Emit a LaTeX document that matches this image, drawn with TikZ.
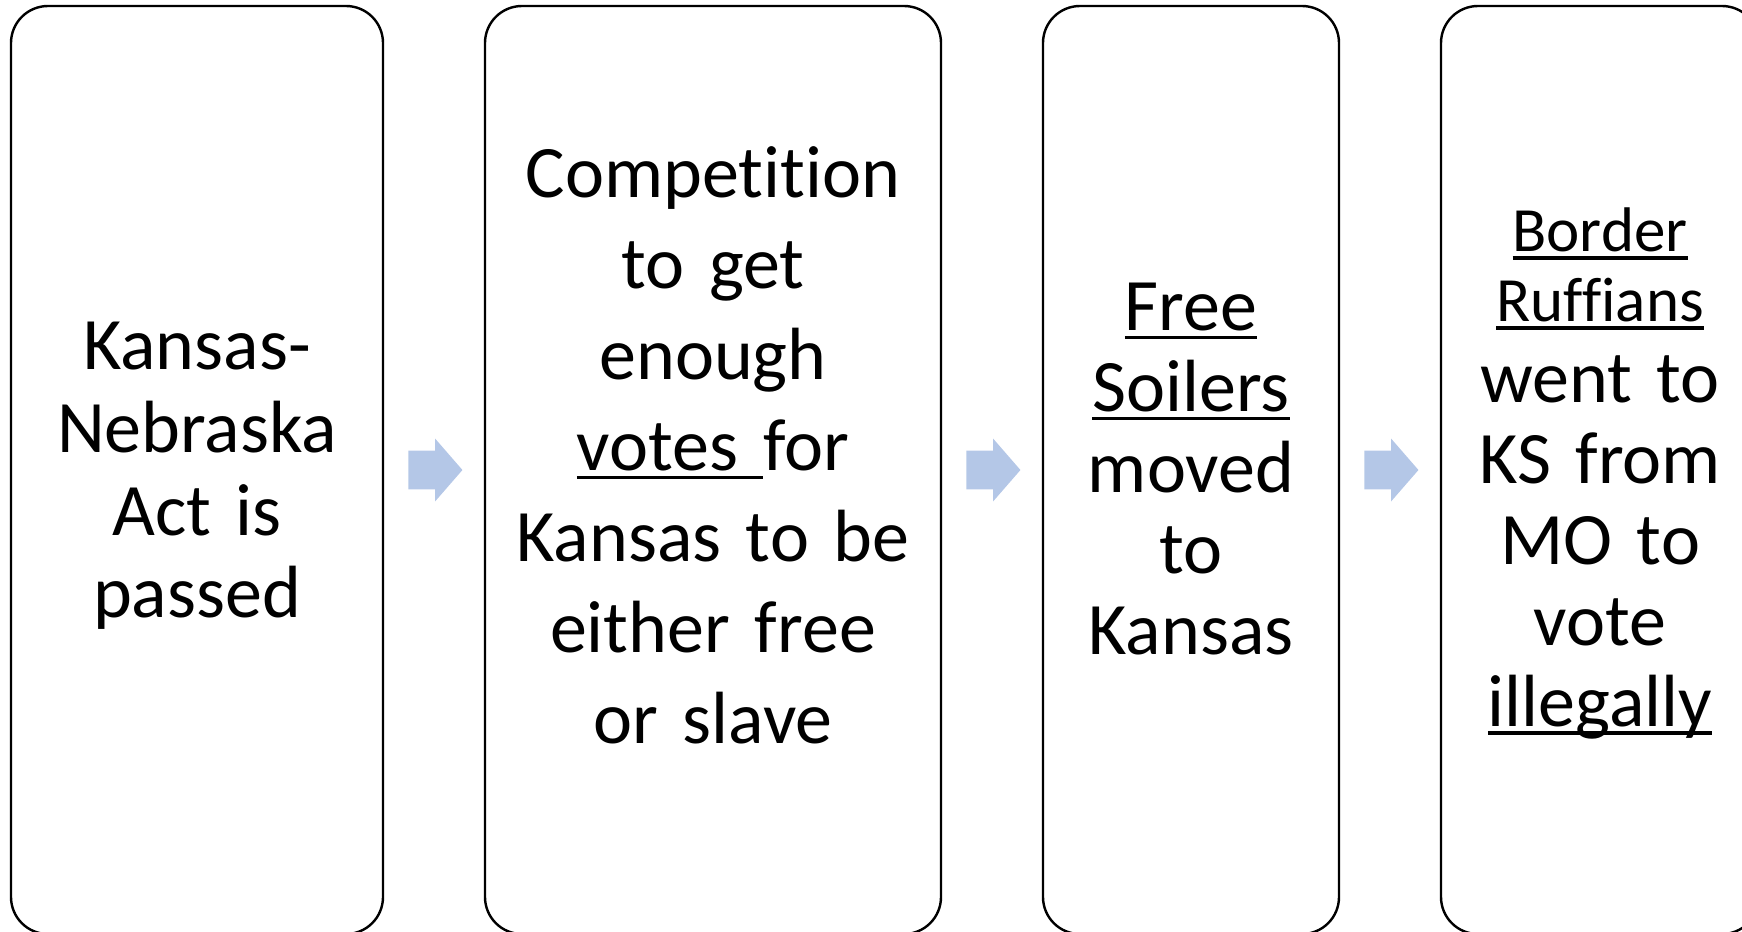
\documentclass[tikz,border=0pt]{standalone}
\usepackage{fontspec}
\setmainfont{Carlito}[Ligatures=NoCommon]
\usetikzlibrary{positioning, calc, shapes.arrows}

\definecolor{flowblue}{RGB}{180,199,231}
\newlength\ulwd
\newcommand{\ulword}[1]{\leavevmode\settowidth{\ulwd}{#1}\rlap{\rule[-4.5pt]{\ulwd}{1.8pt}}#1}

\begin{document}
\begin{tikzpicture}[
  x=0.5pt, y=-0.5pt,
  stepbox/.style={draw=black, line width=1.2pt, rounded corners=18.5pt, minimum height=464pt, inner sep=0pt},
  txt/.style={align=center, inner sep=0pt, font=\fontsize{37}{40.5}\selectfont},
  flow/.style={single arrow, fill=flowblue, draw=none, minimum height=27pt, inner xsep=0pt, inner ysep=9.5pt,
    single arrow head extend=6pt, single arrow tip angle=98, xshift=-3.5pt},
  node distance=49.8pt
]
\useasboundingbox (0,0) rectangle (1742,932);
\clip (0,0) rectangle (1742,932);

\node[stepbox, minimum width=186pt] (b1) at (197,470) {};
\node[stepbox, minimum width=228pt, right=of b1] (b2) {};
\node[stepbox, minimum width=148pt, right=of b2] (b3) {};
\node[stepbox, minimum width=159pt, right=of b3] (b4) {};

\node[txt, text width=176pt, font=\fontsize{37}{41.3}\selectfont] (t1) at ([yshift=-3pt]b1.center)
  {Kansas-\\Nebraska\\Act is\\passed};
\node[txt, text width=218pt, font=\fontsize{37}{45.5}\selectfont] (t2) at ([yshift=12.5pt]b2.center)
  {Competition\\to get\\enough\\\ulword{votes\ }for\\Kansas to be\\either free\\or slave};
\node[txt, text width=140pt] (t3) at ([yshift=0.5pt]b3.center)
  {\ulword{Free}\\\ulword{Soilers}\\moved\\to\\Kansas};
\node[txt, text width=150pt] (t4) at ([yshift=-1.5pt]b4.center)
  {{\fontsize{31.5}{35}\selectfont \ulword{Border}\\\ulword{Ruffians}\par}
   went to\\KS from\\MO to\\vote\\\ulword{illegally}};

\node[flow] (a1) at ($(b1.east)!0.5!(b2.west)$) {};
\node[flow] (a2) at ($(b2.east)!0.5!(b3.west)$) {};
\node[flow] (a3) at ($(b3.east)!0.5!(b4.west)$) {};
\end{tikzpicture}
\end{document}
